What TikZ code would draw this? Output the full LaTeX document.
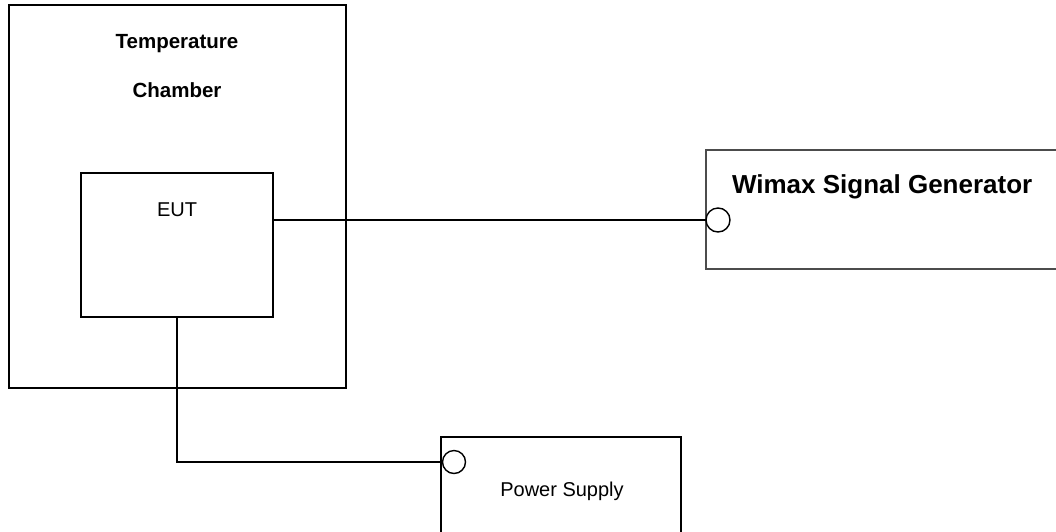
\documentclass[tikz,border=0pt]{standalone}
\usepackage{fontspec}
\setmainfont{Liberation Sans}
\usetikzlibrary{positioning}

\begin{document}
\begin{tikzpicture}[
    x=1pt, y=-1pt,
    every node/.style={inner sep=0pt, outer sep=0pt},
    box/.style={draw, rectangle, line width=2pt},
    thinbox/.style={draw=black!70, rectangle, line width=1.1pt},
    port/.style={draw, circle, line width=1.4pt, fill=white, minimum size=24pt},
    wire/.style={line width=2pt},
    boldlabel/.style={font=\fontsize{20.5}{24}\selectfont\bfseries},
    plainlabel/.style={font=\fontsize{20}{24}\selectfont}
]
\path[use as bounding box, clip] (0,0) rectangle (1056,531);

% chamber with the EUT inside
\node[box, minimum width=337pt, minimum height=383pt] (chamber) at (177.5,196.5) {};
\node[boldlabel, anchor=base] (tempword) at (177,48) {Temperature};
\node[boldlabel, anchor=base] (chamberword) at (177,97) {Chamber};
\node[box, minimum width=192pt, minimum height=144pt] (eut) at (177,245) {};
\node[plainlabel, anchor=base] (euttext) at (177,216) {EUT};

% instruments
\node[thinbox, anchor=north west, minimum width=370pt, minimum height=119pt] (wimax) at (706,150) {};
\node[font=\fontsize{26}{30}\selectfont\bfseries, anchor=base west] (wimaxtext) at (732,193) {Wimax Signal Generator};
\node[box, anchor=north west, minimum width=240pt, minimum height=110pt] (power) at (441,437) {};
\node[plainlabel, anchor=base] (powertext) at (562,496) {Power Supply};

% ports
\node[port] (wimaxport) at (718,220) {};
\node[port, minimum size=23pt] (psport) at (454,462) {};

% cables
\draw[wire] (eut.east |- wimaxport) -- (wimaxport.west);
\draw[wire] (eut.south) |- (psport.west);
\end{tikzpicture}
\end{document}
